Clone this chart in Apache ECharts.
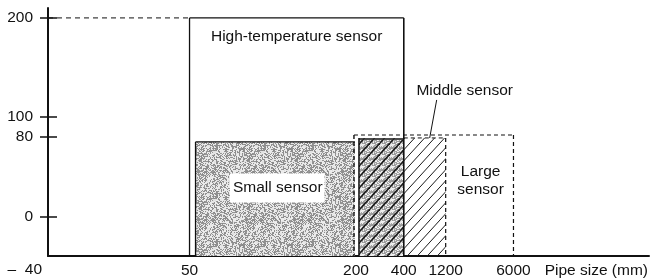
<!DOCTYPE html>
<html><head><meta charset="utf-8">
<script src="https://cdn.jsdelivr.net/npm/echarts@6/dist/echarts.min.js"></script>
<style>html,body{margin:0;padding:0;background:#fff}#c{width:651px;height:279px}</style>
</head><body><div id="c"></div>
<script>
// ---- data ----
const pipeSizeTicks = [50, 200, 400, 1200, 6000];
const tempTicks = [-40, 0, 80, 100, 200];
const sensorNames = ['High-temperature sensor', 'Small sensor', 'Middle sensor', 'Large sensor'];
const sensorMinSize = [50, 50, 200, 200];
const sensorMaxSize = [400, 200, 1200, 6000];
const sensorMaxTemp = [200, 75, 79, 82];
const tempMin = -40;
const tempMax = 210;
const drawOrder = [1, 3, 2, 0];

// ---- schematic (non-proportional) pipe-size axis of the figure ----
const xScaleStops = [23.55, 51.24, 59.2, 66.17, 77.45];
function sizeToAxis(s) {
  for (let i = 0; i < pipeSizeTicks.length; i++) if (pipeSizeTicks[i] === s) return xScaleStops[i];
  for (let i = 0; i < pipeSizeTicks.length - 1; i++) {
    if (s > pipeSizeTicks[i] && s < pipeSizeTicks[i + 1]) {
      const t = (Math.log(s) - Math.log(pipeSizeTicks[i])) / (Math.log(pipeSizeTicks[i + 1]) - Math.log(pipeSizeTicks[i]));
      return xScaleStops[i] + t * (xScaleStops[i + 1] - xScaleStops[i]);
    }
  }
  return s < pipeSizeTicks[0] ? 0 : 100;
}

// ---- fill textures (deterministic print-like stipple) ----
function hash(x, y) {
  let h = (x * 374761393 + y * 668265263) | 0;
  h = (h ^ (h >>> 13)) * 1274126177 | 0;
  return ((h ^ (h >>> 16)) >>> 0) / 4294967295;
}
function stippleCanvas(dk, lt) {
  const n = 48;
  const c = document.createElement('canvas'); c.width = n; c.height = n;
  const g = c.getContext('2d');
  const img = g.createImageData(n, n);
  for (let y = 0; y < n; y++) for (let x = 0; x < n; x++) {
    const r = hash(x, y), r2 = hash(x >> 2, y >> 2);
    const v = r < 0.38 + 0.15 * r2 ? dk + 40 * r : lt + 30 * r;
    const k = (y * n + x) * 4;
    img.data[k] = img.data[k + 1] = img.data[k + 2] = Math.min(255, v); img.data[k + 3] = 255;
  }
  g.putImageData(img, 0, 0);
  return c;
}
function hatchCanvas(bg, lw) {
  const w = 10, h = 11;
  const c = document.createElement('canvas'); c.width = w; c.height = h;
  const g = c.getContext('2d');
  if (bg) { g.fillStyle = g.createPattern(bg, 'repeat'); g.fillRect(0, 0, w, h); }
  g.strokeStyle = '#1a1a1a'; g.lineWidth = lw;
  [-w, 0, w].forEach(o => { g.beginPath(); g.moveTo(o, h); g.lineTo(o + w, 0); g.stroke(); });
  return c;
}
const stipple = stippleCanvas(135, 210);
const hatchLight = hatchCanvas(null, 1);
const hatchDark = hatchCanvas(stippleCanvas(150, 215), 1.6);

const FS = 15.5;
const FONT = FS + 'px "Liberation Sans", Arial, sans-serif';
const INK = '#111';

function line(x1, y1, x2, y2, w, dash) {
  return { type: 'line', shape: { x1, y1, x2, y2 },
    style: { stroke: INK, lineWidth: w, lineDash: dash || null } };
}

function renderItem(params, api) {
  const idx = api.value(3);
  const p0 = api.coord([api.value(0), api.value(2)]);
  const p1 = api.coord([api.value(1), tempMin]);
  let x0 = p0[0], x1 = p1[0];
  const top = p0[1], bot = p1[1];
  const ch = [];
  if (idx === 0) {
    const a = api.coord([0, api.value(2)]);
    ch.push(line(a[0], top, x0, top, 1, [5, 4]));
    ch.push(line(x0, top, x1, top, 1.3));
    ch.push(line(x0, top, x0, bot, 1.3));
    ch.push(line(x1, top, x1, bot, 1.6));
    ch.push({ type: 'text', style: { text: sensorNames[idx], x: (x0 + x1) / 2, y: top + 19,
      align: 'center', verticalAlign: 'middle', font: FONT, fill: INK } });
  } else if (idx === 1) {
    x0 += 6; x1 -= 1;
    ch.push({ type: 'rect', shape: { x: x0, y: top, width: x1 - x0, height: bot - top },
      style: { fill: { image: stipple, repeat: 'repeat' }, stroke: null } });
    ch.push(line(x0, top, x1, top, 1.3));
    ch.push(line(x0, top, x0, bot, 1.3));
    ch.push({ type: 'text', style: { text: sensorNames[idx], x: (x0 + x1) / 2 + 2, y: top + 46,
      align: 'center', verticalAlign: 'middle', font: FONT, fill: INK,
      backgroundColor: '#fff', padding: [7, 2, 6, 3] } });
  } else if (idx === 2) {
    x0 += 3;
    const xo = api.coord([sizeToAxis(sensorMaxSize[0]), 0])[0];
    ch.push({ type: 'rect', shape: { x: x0, y: top, width: x1 - x0, height: bot - top },
      style: { fill: { image: hatchLight, repeat: 'repeat' }, stroke: null } });
    ch.push({ type: 'rect', shape: { x: x0, y: top + 2, width: xo - x0, height: bot - top - 2 },
      style: { fill: { image: hatchDark, repeat: 'repeat' }, stroke: null } });
    ch.push(line(x0, top + 1, xo, top + 1, 1.5));
    ch.push(line(xo, top, x1, top, 1, [4, 3]));
    ch.push(line(x0, top, x0, bot, 1.5));
    ch.push(line(x1, top, x1, bot, 1.2, [4, 3]));
    ch.push(line(x1 - 9, top - 38, x1 - 16, top, 1));
    ch.push({ type: 'text', style: { text: sensorNames[idx], x: x1 + 19, y: top - 47,
      align: 'center', verticalAlign: 'middle', font: FONT, fill: INK } });
  } else if (idx === 3) {
    x0 -= 2;
    const xm = api.coord([sizeToAxis(sensorMaxSize[2]), 0])[0];
    ch.push(line(x0, top, x1, top, 1.2, [4, 3]));
    ch.push(line(x0, top, x0, bot, 1.4, [4, 3]));
    ch.push(line(x1, top, x1, bot, 1.2, [4, 3]));
    ch.push({ type: 'text', style: { text: 'Large\nsensor', x: (xm + x1) / 2 + 1, y: top + 46,
      align: 'center', verticalAlign: 'middle', font: FONT, fill: INK, lineHeight: 18 } });
  }
  return { type: 'group', children: ch };
}

const seriesData = drawOrder.map(i => [sizeToAxis(sensorMinSize[i]), sizeToAxis(sensorMaxSize[i]), sensorMaxTemp[i], i]);

const chart = echarts.init(document.getElementById('c'), null, { renderer: 'canvas' });
chart.setOption({
  animation: false,
  backgroundColor: '#fff',
  grid: { left: 48, right: 0, top: 8, bottom: 21, containLabel: false },
  xAxis: {
    type: 'value', min: 0, max: 100,
    name: 'Pipe size (mm)', nameLocation: 'end', nameGap: 0,
    nameTextStyle: { fontSize: FS, fontFamily: 'Liberation Sans', color: INK,
      align: 'right', verticalAlign: 'top', padding: [7, 1, 0, 0] },
    axisLine: { onZero: false, lineStyle: { color: INK, width: 2 } },
    axisTick: { show: false },
    splitLine: { show: false },
    axisLabel: {
      customValues: xScaleStops, margin: 7,
      fontSize: FS, fontFamily: 'Liberation Sans', color: INK,
      formatter: v => {
        let b = 0;
        xScaleStops.forEach((s, i) => { if (Math.abs(s - v) < Math.abs(xScaleStops[b] - v)) b = i; });
        return String(pipeSizeTicks[b]);
      }
    }
  },
  yAxis: [{
    type: 'value', min: tempMin, max: tempMax,
    axisLine: { show: true, onZero: false, lineStyle: { color: INK, width: 2 } },
    axisTick: { show: true, customValues: tempTicks.filter(v => v !== tempMin), length: 8,
      lineStyle: { color: INK, width: 1.5 } },
    splitLine: { show: false },
    axisLabel: {
      customValues: tempTicks, margin: 6, color: INK,
      formatter: v => v === tempMin ? '{low|–  ' + Math.abs(v) + '}' : '{n|' + v + '}',
      rich: {
        low: { fontSize: FS, fontFamily: 'Liberation Sans', color: INK, padding: [28, 0, 0, 0] },
        n: { fontSize: FS, fontFamily: 'Liberation Sans', color: INK, padding: [0, 9, 0, 0] }
      }
    }
  }, {
    type: 'value', min: tempMin, max: tempMax, position: 'left',
    axisLine: { show: false },
    axisTick: { show: true, inside: true, customValues: tempTicks.filter(v => v !== tempMin), length: 9,
      lineStyle: { color: INK, width: 1.5 } },
    axisLabel: { show: false },
    splitLine: { show: false }
  }],
  series: [{
    type: 'custom', renderItem: renderItem, data: seriesData, clip: false,
    encode: { x: [0, 1], y: 2 }
  }]
});
</script></body></html>
